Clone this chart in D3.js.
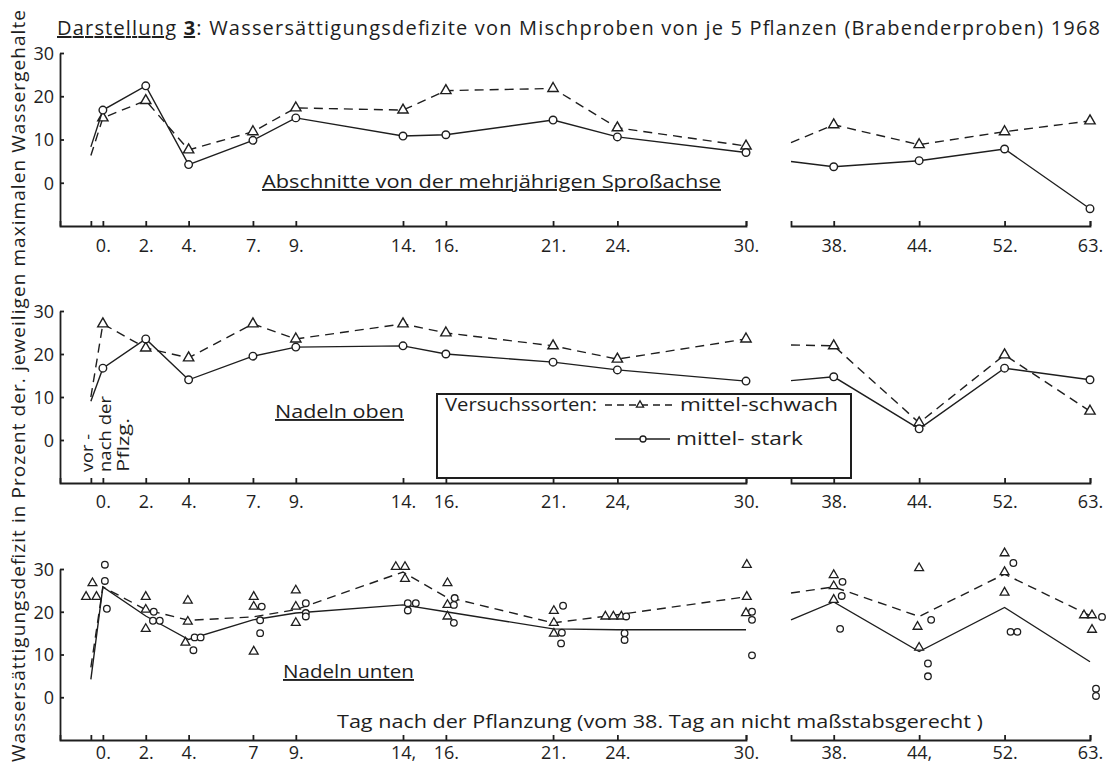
<!DOCTYPE html>
<html><head><meta charset="utf-8">
<script src="https://cdn.jsdelivr.net/npm/d3@7"></script>
<style>
body{margin:0;background:#fff}
svg{display:block}
text{font-family:'Open Sans',sans-serif;fill:#1e1e1e}
</style>
</head><body>
<svg id="c" width="1110" height="765"></svg>
<script>
// ---------------- DATA ----------------
const VOR = -0.56;                       // "vor der Pflanzung" position (day units)
const leftDays = [0, 2, 4, 7, 9, 14, 16, 21, 24, 30];
const rightDays = [38, 44, 52, 63];      // not to scale from day 38 on
const yTicks = [0, 10, 20, 30];

const topLeftLabels = ["0.", "2.", "4.", "7.", "9.", "14.", "16.", "21.", "24.", "30."];
const topRightLabels = ["38.", "44.", "52.", "63."];
const midLeftLabels = ["0.", "2.", "4.", "7.", "9.", "14.", "16.", "21.", "24,", "30."];
const midRightLabels = ["38.", "44.", "52.", "63."];
const botLeftLabels = ["0.", "2.", "4.", "7", "9.", "14,", "16.", "21.", "24.", "30."];
const botRightLabels = ["38.", "44,", "52.", "63."];

// Abschnitte von der mehrjährigen Sproßachse   (first value = vor der Pflanzung)
const sprossSchwach = [6.3, 15, 19, 7.6, 11.8, 17.3, 16.8, 21.3, 21.8, 12.7, 8.5];
const sprossStark   = [8.3, 16.8, 22.4, 4.2, 9.8, 15, 10.8, 11.1, 14.5, 10.6, 7.0];
// late segment (first value = line continuing from day 30)
const sprossSchwachLate = [9.3, 13.4, 8.8, 11.8, 14.3];
const sprossStarkLate   = [4.9, 3.7, 5.1, 7.8, -6.0];

// Nadeln oben
const obenSchwach = [10, 27, 21.4, 19.1, 27, 23.5, 27, 24.9, 21.9, 18.8, 23.5];
const obenStark   = [9, 16.7, 23.5, 14, 19.5, 21.6, 21.9, 20, 18.1, 16.3, 13.7];
const obenSchwachLate = [22.1, 21.9, 4.0, 19.8, 6.7];
const obenStarkLate   = [13.8, 14.7, 2.6, 16.7, 14];

// Nadeln unten (mean lines)
const untenSchwach = [7, 25.8, 20.5, 18, 18.8, 20.5, 29.3, 23.5, 17.4, 19.3, 23.5];
const untenStark   = [4.2, 25.8, 19, 13.5, 18.1, 19.7, 21.6, 20, 16, 15.8, 15.8];
const untenSchwachLate = [24.4, 25.8, 18.9, 28.8, 19.1];
const untenStarkLate   = [18.1, 22.3, 10.7, 21, 8.3];

// Nadeln unten – single samples: [day, value, side-by-side slot]
const untenSchwachSamples = [
 [0,23.5,-2.1],[0,23.5,-0.8],[0,26.7,-1.3],
 [2,23.5,0],[2,20.5,0],[2,16,0],
 [4,22.6,-0.1],[4,17.7,-0.1],[4,12.8,-0.4],
 [7,23.5,0.1],[7,21.2,0.1],[7,10.7,0.1],
 [9,25,0],[9,21.2,0],[9,17.4,0],
 [14,30.5,-0.9],[14,30.5,0.25],[14,27.7,0.25],
 [16,26.7,0.2],[16,21.6,0.2],[16,18.9,0.2],
 [21,20.2,0.1],[21,17.4,0.1],[21,14.9,0.1],
 [24,18.9,-1.5],[24,18.9,-0.5],[24,18.9,0.5],
 [30,31,0.1],[30,23.5,0.1],[30,19.7,0],
 [38,28.6,0],[38,26,0],[38,22.8,0],
 [44,30.2,0],[44,16.5,-0.2],[44,11.6,0],
 [52,33.7,0],[52,29.3,0],[52,24.5,0],
 [63,19.2,-0.75],[63,19.2,0.25],[63,15.8,0.25]
];
const untenStarkSamples = [
 [0,31,0.25],[0,27.2,0.25],[0,20.7,0.5],
 [2,20,1],[2,17.9,0.9],[2,17.9,1.75],
 [4,14,0.75],[4,14,1.5],[4,11,0.6],
 [7,21.2,1.1],[7,18,0.9],[7,15,0.9],
 [9,22,1.25],[9,19.7,1.25],[9,18.9,1.25],
 [14,22,0.6],[14,22,1.6],[14,20.3,0.6],
 [16,23.2,1.1],[16,21.6,1],[16,17.4,1],
 [21,21.4,1.25],[21,15.1,1.1],[21,12.6,1],
 [24,18.9,1.1],[24,15,0.9],[24,13.4,0.9],
 [30,20,0.75],[30,18.1,0.75],[30,9.8,0.75],
 [38,27,1.1],[38,23.7,1],[38,16,0.8],
 [44,18.1,1.5],[44,7.9,1.1],[44,4.9,1.1],
 [52,31.4,1.1],[52,15.3,0.75],[52,15.3,1.6],
 [63,18.8,1.5],[63,2.0,0.75],[63,0.3,0.75]
];

const title = ": Wassersättigungsdefizite von Mischproben von je 5 Pflanzen (Brabenderproben) 1968";
const yTitle = "Wassersättigungsdefizit in Prozent der. jeweiligen maximalen Wassergehalte";
const xTitle = "Tag nach der Pflanzung (vom 38. Tag an nicht maßstabsgerecht )";
const legendTitle = "Versuchssorten:";
const seriesNames = ["mittel-schwach", "mittel- stark"];
const vorNote = ["vor -", "nach der", "Pflzg."];

// ---------------- LAYOUT ----------------
const ink = "#1e1e1e";
const svg = d3.select("#c");
svg.append("rect").attr("width",1110).attr("height",765).attr("fill","#fff");

const xL = d3.scaleLinear().domain([-2, 30]).range([60, 746]);
const xR = d3.scaleLinear().domain([-0.5, 3]).range([791, 1090]);
const lateIdx = [-0.5, 0, 1, 2, 3];
const SLOT = 8;

const panels = [
  {top:53, bottom:226, labelDy:26, lL:topLeftLabels, lR:topRightLabels,
   s:sprossSchwach, k:sprossStark, sL:sprossSchwachLate, kL:sprossStarkLate, markers:true},
  {top:311, bottom:483, labelDy:25, lL:midLeftLabels, lR:midRightLabels,
   s:obenSchwach, k:obenStark, sL:obenSchwachLate, kL:obenStarkLate, markers:true},
  {top:569, bottom:740, labelDy:19, lL:botLeftLabels, lR:botRightLabels,
   s:untenSchwach, k:untenStark, sL:untenSchwachLate, kL:untenStarkLate, markers:false}
];

const tri = d3.symbol(d3.symbolTriangle, 46);
const triSmall = d3.symbol(d3.symbolTriangle, 34);
const line = d3.line();

function styleAxis(g){
  g.selectAll("path,line").attr("stroke", ink).attr("stroke-width", 1.8);
  g.selectAll("text").attr("font-size", 18).attr("font-family","'Open Sans',sans-serif").attr("fill", ink);
}

panels.forEach((p, pi) => {
  const y = d3.scaleLinear().domain([-10, 30]).range([p.bottom, p.top]);
  const g = svg.append("g");

  // y axis
  const ya = g.append("g").attr("transform", "translate(60,0)")
    .call(d3.axisLeft(y).tickValues(yTicks).tickSizeInner(-4).tickSizeOuter(0).tickPadding(6));
  styleAxis(ya);
  ya.selectAll("text").attr("dy", "0.36em");

  // x axes
  const labelsL = ["", ...p.lL];
  const xa = g.append("g").attr("transform", `translate(0,${p.bottom})`)
    .call(d3.axisBottom(xL).tickValues([VOR, ...leftDays]).tickSizeInner(-5).tickSizeOuter(-5)
      .tickPadding(p.labelDy - 13).tickFormat((d, i) => labelsL[i]));
  styleAxis(xa);
  const xb = g.append("g").attr("transform", `translate(0,${p.bottom})`)
    .call(d3.axisBottom(xR).tickValues([0,1,2,3]).tickSizeInner(-5).tickSizeOuter(-5)
      .tickPadding(p.labelDy - 13).tickFormat((d, i) => p.lR[i]));
  styleAxis(xb);

  const early = vals => [VOR, ...leftDays].map((d, i) => [xL(d), y(vals[i])]);
  const late = vals => lateIdx.map((d, i) => [xR(d), y(vals[i])]);

  [[p.s, p.sL, true], [p.k, p.kL, false]].forEach(([e, l, dashed]) => {
    [early(e), late(l)].forEach(pts => {
      g.append("path").attr("d", line(pts)).attr("fill", "none")
        .attr("stroke", ink).attr("stroke-width", 1.4)
        .attr("stroke-dasharray", dashed ? "9,6" : null);
    });
    if (p.markers) {
      const pts = early(e).slice(1).concat(late(l).slice(1));
      if (dashed) {
        g.selectAll(null).data(pts).join("path")
          .attr("d", tri).attr("transform", d => `translate(${d[0]},${d[1]})`)
          .attr("fill", "#fff").attr("stroke", ink).attr("stroke-width", 1.4);
      } else {
        g.selectAll(null).data(pts).join("circle")
          .attr("cx", d => d[0]).attr("cy", d => d[1]).attr("r", 3.8)
          .attr("fill", "#fff").attr("stroke", ink).attr("stroke-width", 1.4);
      }
    }
  });

  if (!p.markers) {
    const xpos = d => (d[0] <= 30 ? xL(d[0]) : xR(rightDays.indexOf(d[0]))) + d[2] * SLOT;
    g.selectAll(null).data(untenSchwachSamples).join("path")
      .attr("d", triSmall).attr("transform", d => `translate(${xpos(d)},${y(d[1])})`)
      .attr("fill", "#fff").attr("stroke", ink).attr("stroke-width", 1.3);
    g.selectAll(null).data(untenStarkSamples).join("circle")
      .attr("cx", xpos).attr("cy", d => y(d[1])).attr("r", 3.3)
      .attr("fill", "#fff").attr("stroke", ink).attr("stroke-width", 1.3);
  }
});

// ---------------- TEXT ----------------
const t = svg.append("text").attr("x", 57).attr("y", 35).attr("font-size", 20)
  .attr("textLength", 1043).attr("lengthAdjust", "spacing");
t.append("tspan").text("Darstellung").style("text-decoration", "underline");
t.append("tspan").text(" ");
t.append("tspan").text("3").attr("font-weight", "bold").style("text-decoration", "underline");
t.append("tspan").text(title);

svg.append("text").attr("transform", "translate(25,762) rotate(-90)")
  .attr("font-size", 19).attr("textLength", 752).attr("lengthAdjust", "spacing").text(yTitle);

function label(txt, x, y, len, underline, size) {
  return svg.append("text").attr("x", x).attr("y", y).attr("font-size", size || 19)
    .attr("textLength", len).attr("lengthAdjust", "spacingAndGlyphs")
    .style("text-decoration", underline ? "underline" : null).text(txt);
}
label("Abschnitte von der mehrjährigen Sproßachse", 262, 188, 459, true);
label("Nadeln oben", 275, 418, 129, true);
label("Nadeln unten", 283, 678, 131, true);
label(xTitle, 337, 728, 646, false);

// vertical note in middle panel
[[vorNote[0], 93, 38], [vorNote[1], 111, 76], [vorNote[2], 129, 54]].forEach(([s, bx, len]) => {
  svg.append("text").attr("transform", `translate(${bx},472) rotate(-90)`)
    .attr("font-size", 17).attr("textLength", len).attr("lengthAdjust", "spacingAndGlyphs").text(s);
});

// ---------------- LEGEND ----------------
svg.append("rect").attr("x", 437).attr("y", 394).attr("width", 414).attr("height", 84)
  .attr("fill", "#fff").attr("stroke", ink).attr("stroke-width", 2);
label(legendTitle, 445, 411, 152, false);
label(seriesNames[0], 680, 411, 158, false);
label(seriesNames[1], 676, 445, 127, false);
svg.append("path").attr("d", line([[605, 405], [675, 405]])).attr("stroke", ink)
  .attr("stroke-width", 1.4).attr("stroke-dasharray", "7,5").attr("fill", "none");
svg.append("path").attr("d", d3.symbol(d3.symbolTriangle, 22)).attr("transform", "translate(640,405)")
  .attr("fill", "#fff").attr("stroke", ink).attr("stroke-width", 1.3);
svg.append("path").attr("d", line([[615, 439], [670, 439]])).attr("stroke", ink)
  .attr("stroke-width", 1.4).attr("fill", "none");
svg.append("circle").attr("cx", 643).attr("cy", 439).attr("r", 3)
  .attr("fill", "#fff").attr("stroke", ink).attr("stroke-width", 1.3);
</script>
</body></html>
